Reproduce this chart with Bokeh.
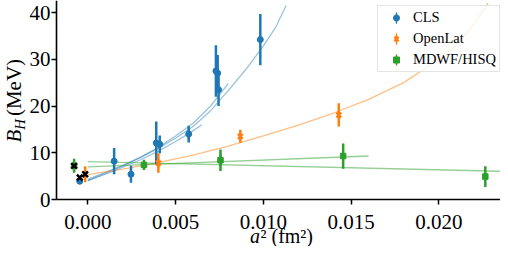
import numpy as np
from bokeh.plotting import figure
from bokeh.core.properties import value
from bokeh.models import (Range1d, FixedTicker, CustomJSTickFormatter, Legend,
                          LegendItem)
from bokeh.embed import file_html
from bokeh.resources import INLINE

# ---------------- data ----------------
cls_x = [-0.00046, 0.0015, 0.00246, 0.0039, 0.0041, 0.00575, 0.0073, 0.0074, 0.00745, 0.00983]
cls_y = [3.9, 8.2, 5.4, 12.1, 11.8, 14.0, 27.5, 27.0, 23.5, 34.2]
cls_err = [0.6, 2.8, 1.8, 4.6, 1.9, 1.8, 5.5, 3.9, 3.5, 5.5]

openlat_x = [-0.00015, 0.00402, 0.00869, 0.0143]
openlat_y = [5.4, 7.8, 13.5, 18.1]
openlat_err = [1.7, 2.1, 1.4, 2.5]

mdwf_x = [-0.00078, 0.0032, 0.00756, 0.01455, 0.02265]
mdwf_y = [7.2, 7.4, 8.4, 9.3, 4.9]
mdwf_err = [1.5, 1.1, 2.3, 2.7, 2.2]

cont_x = [-0.00078, -0.00046, -0.00015]
cont_y = [7.2, 4.7, 5.4]

# fit curves
clsA_x = [0.0, 0.001, 0.002, 0.003, 0.004, 0.005, 0.0058, 0.0065]
clsA_y = [4.0, 5.4, 6.9, 8.5, 10.3, 12.4, 14.2, 16.0]
clsB_x = [0.0, 0.001, 0.002, 0.003, 0.004, 0.005, 0.006, 0.007, 0.0080]
clsB_y = [4.1, 5.6, 7.2, 9.0, 11.1, 13.6, 16.3, 20.0, 24.8]
clsC_x = [0.0, 0.001, 0.002, 0.003, 0.004, 0.005, 0.006, 0.007, 0.008, 0.009, 0.010, 0.0107, 0.0113]
clsC_y = [4.3, 5.8, 7.3, 9.0, 10.9, 13.1, 15.6, 19.0, 23.3, 27.8, 32.8, 36.8, 41.5]
ol_fit_x = [0.0, 0.002, 0.004, 0.006, 0.008, 0.010, 0.012, 0.014, 0.016, 0.018, 0.020, 0.021, 0.022, 0.0228]
ol_fit_y = [5.3, 6.5, 7.9, 9.5, 11.4, 13.6, 15.9, 18.5, 21.4, 25.0, 30.0, 33.0, 37.5, 42.0]
mdA_x = [0.0, 0.016]
mdA_y = [7.0, 9.3]
mdB_x = [0.0, 0.024]
mdB_y = [8.1, 6.0]

x_ticks = [0.0, 0.005, 0.010, 0.015, 0.020]
x_tick_labels = ["0.000", "0.005", "0.010", "0.015", "0.020"]
y_ticks = [0, 10, 20, 30, 40]
y_tick_labels = ["0", "10", "20", "30", "40"]

# ---------------- style / geometry ----------------
FONT = "Liberation Serif"
BLUE, ORANGE, GREEN = "#1f77b4", "#ff7f0e", "#2ca02c"
W, H = 500, 246
PX0, PPX = 87.3, 17550.0   # pixel of a^2 = 0, pixels per fm^2
PY0, PPY = 199.0, 4.675    # pixel of B_H = 0, pixels per MeV


def dx(px):
    return (px - PX0) / PPX


def dy(py):
    return (PY0 - py) / PPY


X_SPINE = dx(56)

p = figure(width=W, height=H, output_backend="svg", toolbar_location=None,
           x_range=Range1d(dx(0), dx(W)), y_range=Range1d(dy(H), dy(0)),
           title=None, min_border=0)
p.outline_line_color = None
p.grid.visible = False

# fit lines
for fx, fy in [(clsA_x, clsA_y), (clsB_x, clsB_y), (clsC_x, clsC_y)]:
    p.line(fx, fy, line_color=BLUE, line_alpha=0.45, line_width=1.3)
p.line(ol_fit_x, ol_fit_y, line_color=ORANGE, line_alpha=0.5, line_width=1.3)
for fx, fy in [(mdA_x, mdA_y), (mdB_x, mdB_y)]:
    p.line(fx, fy, line_color=GREEN, line_alpha=0.5, line_width=1.3)

# legend symbol helpers: a slim ellipse hidden inside an existing error bar
e_cls = p.ellipse(x=[cls_x[5]], y=[cls_y[5]], width=2.6, height=15,
                  width_units="screen", height_units="screen",
                  fill_color=BLUE, line_color=None)
e_ol = p.ellipse(x=[openlat_x[1]], y=[openlat_y[1]], width=2.6, height=15,
                 width_units="screen", height_units="screen",
                 fill_color=ORANGE, line_color=None)
e_md = p.ellipse(x=[mdwf_x[2]], y=[mdwf_y[2]], width=2.6, height=15,
                 width_units="screen", height_units="screen",
                 fill_color=GREEN, line_color=None)


def errbars(xs, ys, es, color):
    p.segment(x0=xs, x1=xs, y0=[y - e for y, e in zip(ys, es)],
              y1=[y + e for y, e in zip(ys, es)], line_color=color, line_width=2.5)


errbars(cls_x, cls_y, cls_err, BLUE)
errbars(openlat_x, openlat_y, openlat_err, ORANGE)
errbars(mdwf_x, mdwf_y, mdwf_err, GREEN)

r_cls = p.scatter(cls_x, cls_y, marker="circle", size=6, color=BLUE)
r_ol = p.scatter(openlat_x, openlat_y, marker="x", size=7, line_color=ORANGE, line_width=2.2)
r_md = p.scatter(mdwf_x, mdwf_y, marker="square", size=5.5, color=GREEN)
p.scatter(cont_x, cont_y, marker="x", size=8, line_color="black", line_width=2.5)

legend = Legend(items=[LegendItem(label="CLS", renderers=[e_cls, r_cls]),
                       LegendItem(label="OpenLat", renderers=[e_ol, r_ol]),
                       LegendItem(label="MDWF/HISQ", renderers=[e_md, r_md])],
                location=(377, H - 72), glyph_width=30, glyph_height=15,
                label_height=15, spacing=4, padding=3, label_standoff=2, margin=0,
                border_line_color="#cccccc", border_line_width=1.3,
                background_fill_alpha=0.8, label_text_font=FONT,
                label_text_font_size="14.5px", label_text_color="black")
p.add_layout(legend)

# axes: drawn at fixed data locations inside the (full-canvas) frame
p.xaxis.fixed_location = 0
p.yaxis.fixed_location = X_SPINE
p.xaxis.bounds = (X_SPINE, dx(W))
p.yaxis.bounds = (0, dy(0))
p.xaxis.ticker = FixedTicker(ticks=x_ticks)
p.yaxis.ticker = FixedTicker(ticks=y_ticks)
for ax in (p.xaxis[0], p.yaxis[0]):
    ax.axis_line_width = 1.6
    ax.axis_line_color = "black"
    ax.major_tick_line_width = 1.5
    ax.major_tick_line_color = "black"
    ax.major_tick_in = 0
    ax.major_tick_out = 5
    ax.minor_tick_line_color = None
    ax.formatter = CustomJSTickFormatter(code="return ''")


def txt(xs, ys, texts, size="21px", style="normal", angle=0.0, align="left"):
    p.text(x=xs, y=ys, text=texts, angle=angle, text_font=value(FONT),
           text_font_size=value(size), text_font_style=style,
           text_color="black", text_baseline="middle", text_align=align)


# tick labels (anchored at their visual centre)
txt(x_ticks, [dy(221.5)] * len(x_ticks), x_tick_labels, align="center")
txt([dx(50)] * len(y_ticks), y_ticks, y_tick_labels, align="right")

# y label: B_H (MeV), rotated
txt([dx(13)], [dy(142)], ["B"], style="italic", angle=np.pi / 2)
txt([dx(19)], [dy(129.2)], ["H"], size="14.7px", style="italic", angle=np.pi / 2)
txt([dx(13)], [dy(115.6)], ["(MeV)"], angle=np.pi / 2)

# x label: a^2 (fm^2)
txt([dx(249.5)], [dy(235)], ["a"], size="20px", style="italic")
txt([dx(260)], [dy(235)], ["² (fm²)"], size="20px")

open("out.html", "w").write(file_html(p, INLINE))
